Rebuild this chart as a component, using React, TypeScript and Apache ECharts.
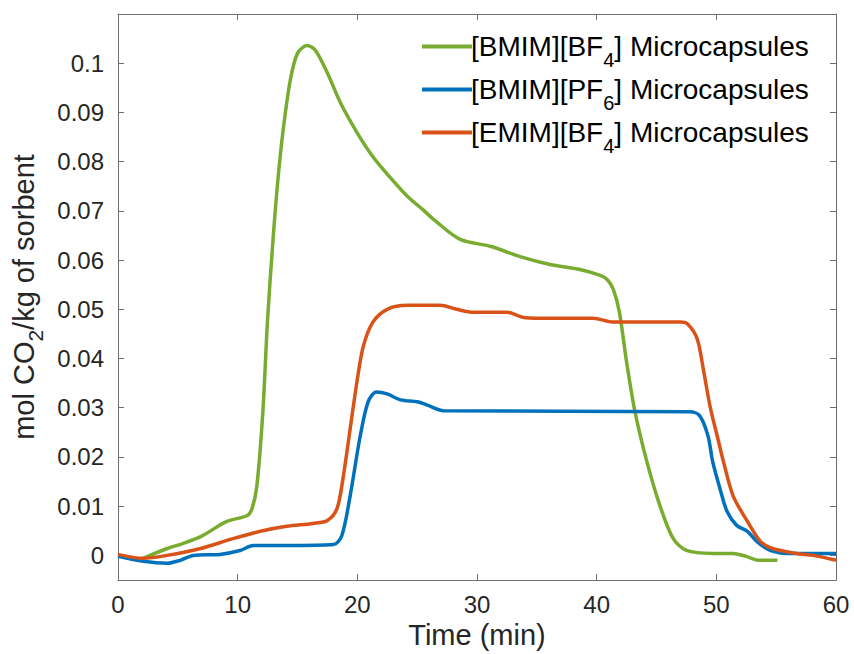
import React, { useEffect, useRef } from 'react';
import * as echarts from 'echarts';

const seriesNames = [
  '[BMIM][BF4] Microcapsules',
  '[BMIM][PF6] Microcapsules',
  '[EMIM][BF4] Microcapsules',
];
const legendRich = [
  '{a|[BMIM][BF}{s|4}{a|] Microcapsules}',
  '{a|[BMIM][PF}{s|6}{a|] Microcapsules}',
  '{a|[EMIM][BF}{s|4}{a|] Microcapsules}',
];
const colors = ['#77AC30', '#0072BD', '#D95319'];

const greenT = [2.1, 4.1, 5.4, 6.9, 9.1, 10.8, 11.2, 11.6, 12.1, 12.5, 12.95, 13.35, 13.8, 14.4, 15.0, 15.8, 16.5, 17.5, 18.6, 20.0, 21.3, 22.7, 24.2, 25.5, 26.5, 28.6, 31.1, 33.6, 36.1, 38.6, 40.3, 40.9, 41.4, 41.9, 42.5, 43.2, 44.2, 45.3, 46.4, 47.5, 49.7, 51.4, 52.5, 53.6, 55.1];
const greenV = [-0.0006, 0.0014, 0.0024, 0.0038, 0.0069, 0.0081, 0.0095, 0.014, 0.029, 0.048, 0.064, 0.076, 0.0864, 0.0966, 0.102, 0.1036, 0.1026, 0.098, 0.0919, 0.0858, 0.081, 0.0769, 0.0729, 0.0702, 0.068, 0.0642, 0.0628, 0.0607, 0.0591, 0.0581, 0.0569, 0.056, 0.054, 0.0494, 0.0393, 0.0292, 0.019, 0.010, 0.0034, 0.001, 0.0004, 0.0004, -0.0002, -0.001, -0.001];

const blueT = [0, 2.1, 4.1, 5.2, 6.3, 8.5, 10.2, 11.3, 14.1, 18.0, 18.7, 19.4, 20.2, 20.9, 21.6, 22.5, 23.6, 25.0, 25.8, 27.2, 47.8, 48.6, 49.3, 49.7, 50.3, 50.9, 51.7, 52.6, 53.4, 54.5, 55.9, 60];
const blueV = [-0.0002, -0.0012, -0.0016, -0.001, 0, 0.0002, 0.001, 0.002, 0.002, 0.0022, 0.004, 0.0121, 0.0237, 0.0312, 0.0332, 0.0328, 0.0316, 0.0312, 0.0306, 0.0294, 0.0292, 0.0284, 0.0243, 0.019, 0.0136, 0.0089, 0.0061, 0.0049, 0.0028, 0.001, 0.0004, 0.0004];

const orangeT = [0, 2.1, 4.1, 6.9, 9.6, 11.9, 14.1, 16.3, 17.5, 18.3, 18.8, 19.4, 20.0, 20.5, 21.3, 22.5, 24.2, 26.9, 28.3, 29.7, 32.5, 33.8, 35.3, 39.7, 41.4, 47.0, 47.6, 48.4, 48.9, 49.5, 50.1, 50.6, 51.4, 52.6, 53.7, 54.7, 56.7, 58.1, 60];
const orangeV = [0.0002, -0.0006, 0, 0.0014, 0.0034, 0.0049, 0.0059, 0.0065, 0.0071, 0.0095, 0.0156, 0.0257, 0.0358, 0.0425, 0.0474, 0.05, 0.0508, 0.0508, 0.05, 0.0494, 0.0494, 0.0484, 0.0482, 0.0482, 0.0474, 0.0474, 0.047, 0.044, 0.038, 0.030, 0.024, 0.019, 0.0121, 0.0069, 0.0028, 0.0014, 0.0004, 0, -0.001];

const xTicks = [0, 10, 20, 30, 40, 50, 60];
const yTicks = [0, 0.01, 0.02, 0.03, 0.04, 0.05, 0.06, 0.07, 0.08, 0.09, 0.1];

const FONT = '"Liberation Sans", Arial, Helvetica, sans-serif';
const AXIS_COLOR = '#6e6e6e';
const TEXT_COLOR = '#262626';

function zip(t: number[], v: number[]) {
  return t.map((x, i) => [x, v[i]]);
}

export default function App() {
  const ref = useRef<HTMLDivElement>(null);
  useEffect(() => {
    if (!ref.current) return;
    const chart = echarts.init(ref.current, null, { renderer: 'svg' });
    const tickInside = (vals: number[]) => ({
      show: true,
      inside: true,
      length: 6,
      customValues: vals,
      lineStyle: { color: AXIS_COLOR, width: 1 },
    });
    const lineAxis = { show: true, onZero: false, lineStyle: { color: AXIS_COLOR, width: 1 } };
    const dataSets = [zip(greenT, greenV), zip(blueT, blueV), zip(orangeT, orangeV)];
    chart.setOption({
      animation: false,
      backgroundColor: '#ffffff',
      textStyle: { fontFamily: FONT },
      grid: { left: 118, right: 18, top: 14, bottom: 74, containLabel: false, outerBoundsMode: 'none' },
      legend: {
        data: seriesNames,
        left: 417,
        top: 18,
        orient: 'vertical',
        itemWidth: 50,
        itemHeight: 4,
        itemGap: -4,
        icon: 'rect',
        selectedMode: false,
        formatter: (name: string) => legendRich[seriesNames.indexOf(name)],
        textStyle: {
          fontFamily: FONT,
          color: '#000',
          padding: [0, 0, 0, -6],
          rich: {
            a: { fontSize: 28, lineHeight: 30, fontFamily: FONT, color: '#000' },
            s: { fontSize: 20, lineHeight: 10, padding: [27, 0, 0, 0], fontFamily: FONT, color: '#000' },
          },
        },
      },
      xAxis: [
        {
          type: 'value',
          min: 0,
          max: 60,
          interval: 10,
          position: 'bottom',
          name: 'Time (min)',
          nameLocation: 'middle',
          nameGap: 35,
          nameTextStyle: { fontSize: 29, color: TEXT_COLOR, fontFamily: FONT },
          axisLine: lineAxis,
          axisTick: tickInside(xTicks),
          axisLabel: { customValues: xTicks, fontSize: 24, color: TEXT_COLOR, margin: 12, fontFamily: FONT },
          splitLine: { show: false },
        },
        {
          type: 'value',
          min: 0,
          max: 60,
          interval: 10,
          position: 'top',
          axisLine: lineAxis,
          axisTick: tickInside(xTicks),
          axisLabel: { show: false },
          splitLine: { show: false },
        },
      ],
      yAxis: [
        {
          type: 'value',
          min: -0.005,
          max: 0.11,
          position: 'left',
          name: '{a|mol CO}{s|2}{a|/kg of sorbent}',
          nameLocation: 'middle',
          nameGap: 68,
          nameRotate: 90,
          nameTextStyle: {
            color: TEXT_COLOR,
            fontFamily: FONT,
            rich: {
              a: { fontSize: 29, lineHeight: 33, color: TEXT_COLOR, fontFamily: FONT },
              s: { fontSize: 21, lineHeight: 10, padding: [24, 0, 0, 0], color: TEXT_COLOR, fontFamily: FONT },
            },
          },
          axisLine: lineAxis,
          axisTick: tickInside(yTicks),
          axisLabel: { customValues: yTicks, fontSize: 24, color: TEXT_COLOR, margin: 14, fontFamily: FONT },
          splitLine: { show: false },
        },
        {
          type: 'value',
          min: -0.005,
          max: 0.11,
          position: 'right',
          axisLine: lineAxis,
          axisTick: tickInside(yTicks),
          axisLabel: { show: false },
          splitLine: { show: false },
        },
      ],
      series: seriesNames.map((name, i) => ({
        name,
        type: 'line',
        xAxisIndex: 0,
        yAxisIndex: 0,
        data: dataSets[i],
        showSymbol: false,
        symbol: 'none',
        smooth: 0.3,
        lineStyle: { color: colors[i], width: 3.5 },
        itemStyle: { color: colors[i] },
        z: 2 + i,
      })),
    });
    return () => chart.dispose();
  }, []);
  return (
    <div
      ref={ref}
      style={{ position: 'fixed', left: 0, top: 0, width: 854, height: 654 }}
    />
  );
}
